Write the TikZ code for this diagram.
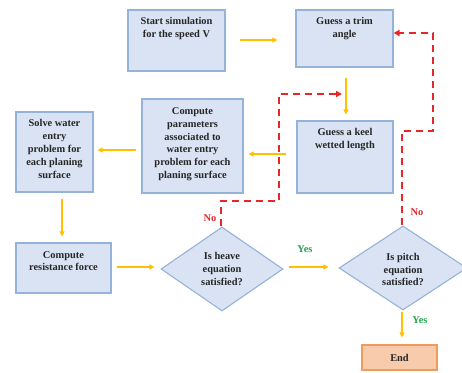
\documentclass[tikz,border=0pt]{standalone}
\usepackage{fontspec}
\setmainfont{Liberation Serif}
\usetikzlibrary{arrows.meta,shapes.geometric,calc}
\definecolor{boxfill}{HTML}{DAE3F3}
\definecolor{boxline}{HTML}{95B3D7}
\definecolor{arrowc}{HTML}{FFC000}
\definecolor{redc}{HTML}{E8262A}
\definecolor{greenc}{HTML}{1EA94B}
\definecolor{textc}{HTML}{262626}
\definecolor{endfill}{HTML}{F8CBAD}
\definecolor{endline}{HTML}{EE9B5C}
\begin{document}
\begin{tikzpicture}[x=1pt,y=-1pt,
  box/.style={draw=boxline, fill=boxfill, line width=1.1pt, inner sep=0pt},
  dia/.style={diamond, draw=boxline, fill=boxfill, line width=1.1pt, inner sep=0pt},
  endbox/.style={draw=endline, fill=endfill, line width=1.1pt, inner sep=0pt,
    font=\fontsize{10.4}{12.8}\selectfont\bfseries, text=textc},
  txt/.style={font=\fontsize{10.4}{12.8}\selectfont\bfseries, align=center, inner sep=0pt, text=textc},
  arr/.style={draw=arrowc, line width=1.2pt, -{Triangle[length=5pt,width=5pt]}},
  dsh/.style={draw=redc, line width=2pt, dash pattern=on 7.5pt off 4.5pt, -{Triangle[length=6pt,width=6pt]}},
  nolab/.style={font=\fontsize{10.4}{12.8}\selectfont\bfseries, text=redc, inner sep=0pt},
  yeslab/.style={font=\fontsize{10.4}{12.8}\selectfont\bfseries, text=greenc, inner sep=0pt}]
\useasboundingbox (0,0) rectangle (462,372);
\fill[white] (0,0) rectangle (462,372);

% boxes
\node[box, minimum width=97pt, minimum height=61pt] (start) at (176.5,40.5) {};
\node[box, minimum width=97pt, minimum height=57pt] (trim) at (344.5,38.5) {};
\node[box, minimum width=96pt, minimum height=72pt] (keel) at (345,157) {};
\node[box, minimum width=101pt, minimum height=94pt] (comp) at (192.5,146) {};
\node[box, minimum width=77pt, minimum height=80pt] (solve) at (54.5,152) {};
\node[box, minimum width=95pt, minimum height=50pt] (resist) at (63.5,268) {};
\node[dia, minimum width=122pt, minimum height=84pt] (heave) at (222,269) {};
\node[dia, minimum width=128pt, minimum height=84pt] (pitch) at (403,268) {};
\node[endbox, minimum width=75pt, minimum height=25pt] (fin) at (399.5,357.5) {End};

% texts
\node[txt, anchor=north] (startT) at ($(start.north)+(0,7.5)$) {Start simulation\\for the speed V};
\node[txt, anchor=north] (trimT) at ($(trim.north)+(0,8)$) {Guess a trim\\angle};
\node[txt, anchor=north] (keelT) at ($(keel.north)+(0,7.5)$) {Guess a keel\\wetted length};
\node[txt, anchor=north] (compT) at ($(comp.north)+(0,9)$) {Compute\\parameters\\associated to\\water entry\\problem for each\\planing surface};
\node[txt, anchor=north] (solveT) at ($(solve.north)+(0,8)$) {Solve water\\entry\\problem for\\each planing\\surface};
\node[txt, anchor=north] (resistT) at ($(resist.north)+(0,8.5)$) {Compute\\resistance force};
\node[txt] (heaveT) at (heave.center) {Is heave\\equation\\satisfied?};
\node[txt] (pitchT) at ($(pitch.center)+(0,1.5)$) {Is pitch\\equation\\satisfied?};

% yellow arrows
\draw[arr, shorten <=14pt, shorten >=18pt] ([yshift=0.5pt]start.east) -- ([yshift=0.5pt]start.east -| trim.west);
\draw[arr, shorten <=10pt, shorten >=6pt] ([xshift=1.5pt]trim.south) -- ([xshift=1.5pt]trim.south |- keel.north);
\draw[arr, shorten <=10pt, shorten >=5pt] ([yshift=3pt]keel.west) -- ([yshift=3pt]keel.west -| comp.east);
\draw[arr, shorten <=5pt, shorten >=4pt] ([yshift=-4pt]comp.west) -- ([yshift=-4pt]comp.west -| solve.east);
\draw[arr, shorten <=6pt, shorten >=6pt] ([xshift=7.5pt]solve.south) -- ([xshift=7.5pt]solve.south |- resist.north);
\draw[arr, shorten <=5pt, shorten >=6pt] ([yshift=1pt]resist.east) -- ([yshift=1pt]resist.east -| heave.west);
\draw[arr, shorten <=5pt, shorten >=10pt] ([yshift=2pt]heave.east) -- ([yshift=2pt]heave.east -| pitch.west);
\draw[arr, shorten <=1pt, shorten >=7pt] ([xshift=-1pt]pitch.south) -- ([xshift=-1pt]pitch.south |- fin.north);

% red dashed feedback
\coordinate (p1) at (433,131);
\coordinate (p2) at (433,33);
\draw[dsh] ([xshift=-1pt]pitch.north) |- (p1) -- (p2) -- (p2 -| trim.east);
\coordinate (h1) at (279,201);
\coordinate (h2) at (279,94);
\coordinate (h3) at (342,94);
\draw[dsh] ([xshift=-1pt]heave.north) |- (h1) -- (h2) -- (h3);

% labels
\node[nolab] (no1) at (210,218) {No};
\node[nolab] (no2) at (417,212) {No};
\node[yeslab] (yes1) at (305,249) {Yes};
\node[yeslab] (yes2) at (420,320) {Yes};
\end{tikzpicture}
\end{document}
